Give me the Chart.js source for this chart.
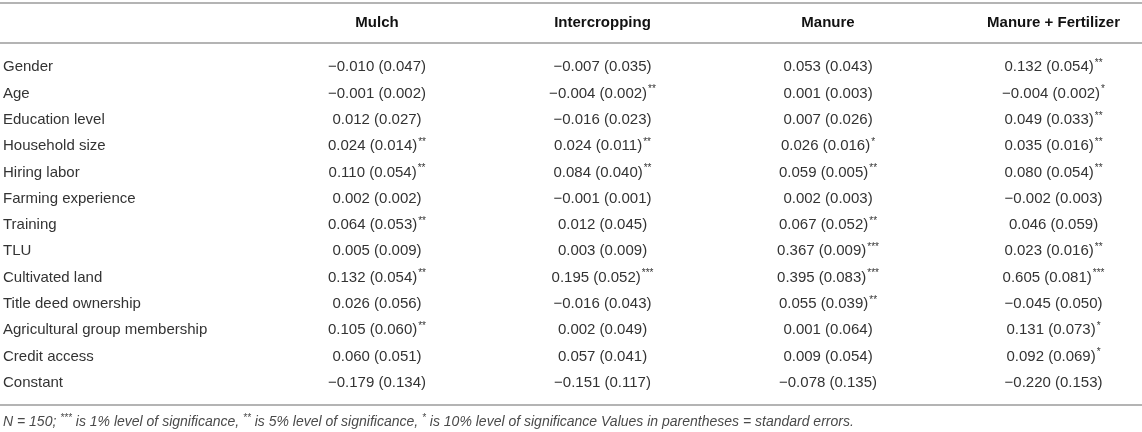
<!DOCTYPE html>
<html lang="en">
<head>
  <meta charset="UTF-8">
  <title>Adoption determinants table</title>
  <script src="https://cdn.jsdelivr.net/npm/chart.js"></script>
  <style>
    html, body { margin: 0; padding: 0; background: #ffffff; }
    .wrap { width: 1142px; height: 432px; position: relative; }
  </style>
</head>
<body>
  <div class="wrap"><canvas id="tableChart"></canvas></div>

  <script>
    // row and column labels
    const rowLabels = [
      'Gender', 'Age', 'Education level', 'Household size', 'Hiring labor',
      'Farming experience', 'Training', 'TLU', 'Cultivated land',
      'Title deed ownership', 'Agricultural group membership', 'Credit access', 'Constant'
    ];
    const columns = ['Mulch', 'Intercropping', 'Manure', 'Manure + Fertilizer'];

    // coefficients, standard errors and significance stars per column
    const mulchCoef = [-0.010, -0.001, 0.012, 0.024, 0.110, 0.002, 0.064, 0.005, 0.132, 0.026, 0.105, 0.060, -0.179];
    const mulchSE   = [0.047, 0.002, 0.027, 0.014, 0.054, 0.002, 0.053, 0.009, 0.054, 0.056, 0.060, 0.051, 0.134];
    const mulchSig  = ['', '', '', '**', '**', '', '**', '', '**', '', '**', '', ''];

    const interCoef = [-0.007, -0.004, -0.016, 0.024, 0.084, -0.001, 0.012, 0.003, 0.195, -0.016, 0.002, 0.057, -0.151];
    const interSE   = [0.035, 0.002, 0.023, 0.011, 0.040, 0.001, 0.045, 0.009, 0.052, 0.043, 0.049, 0.041, 0.117];
    const interSig  = ['', '**', '', '**', '**', '', '', '', '***', '', '', '', ''];

    const manureCoef = [0.053, 0.001, 0.007, 0.026, 0.059, 0.002, 0.067, 0.367, 0.395, 0.055, 0.001, 0.009, -0.078];
    const manureSE   = [0.043, 0.003, 0.026, 0.016, 0.005, 0.003, 0.052, 0.009, 0.083, 0.039, 0.064, 0.054, 0.135];
    const manureSig  = ['', '', '', '*', '**', '', '**', '***', '***', '**', '', '', ''];

    const mfCoef = [0.132, -0.004, 0.049, 0.035, 0.080, -0.002, 0.046, 0.023, 0.605, -0.045, 0.131, 0.092, -0.220];
    const mfSE   = [0.054, 0.002, 0.033, 0.016, 0.054, 0.003, 0.059, 0.016, 0.081, 0.050, 0.073, 0.069, 0.153];
    const mfSig  = ['**', '*', '**', '**', '**', '', '', '**', '***', '', '*', '*', ''];

    const footnote = [
      ['N = 150; ', false], ['***', true], [' is 1% level of significance, ', false],
      ['**', true], [' is 5% level of significance, ', false], ['*', true],
      [' is 10% level of significance Values in parentheses = standard errors.', false]
    ];

    const FONT = "'Liberation Sans', Arial, sans-serif";
    const TEXT = '#333333';
    const RULE = '#b4b4b4';

    function fmt(v) {
      return (v < 0 ? '\u2212' : '') + Math.abs(v).toFixed(3);
    }

    function makeDataset(col, coef, se, sig) {
      return {
        label: col,
        data: rowLabels.map(r => ({ x: col, y: r })),
        cells: coef.map((c, i) => ({ main: fmt(c) + ' (' + se[i].toFixed(3) + ')', stars: sig[i] })),
        showLine: false,
        pointRadius: 0,
        pointHoverRadius: 0
      };
    }

    // draws the cell strings at the points, plus the table rules and footnote
    const tableText = {
      id: 'tableText',
      beforeDraw(chart) {
        const ctx = chart.ctx;
        const y = chart.scales.y;
        ctx.save();
        ctx.fillStyle = RULE;
        ctx.fillRect(0, 2, chart.width, 2);
        ctx.fillRect(0, y.top - 12, chart.width, 2);
        ctx.fillRect(0, y.bottom + 8, chart.width, 2);
        ctx.restore();
      },
      afterDatasetsDraw(chart) {
        const ctx = chart.ctx;
        ctx.save();
        ctx.textBaseline = 'middle';
        ctx.fillStyle = TEXT;
        chart.data.datasets.forEach((ds, di) => {
          const meta = chart.getDatasetMeta(di);
          meta.data.forEach((pt, i) => {
            const cell = ds.cells[i];
            ctx.font = '15px ' + FONT;
            const w1 = ctx.measureText(cell.main).width;
            ctx.font = '10px ' + FONT;
            const w2 = cell.stars ? ctx.measureText(cell.stars).width + 1 : 0;
            const x0 = pt.x - (w1 + w2) / 2;
            ctx.textAlign = 'left';
            ctx.font = '15px ' + FONT;
            ctx.fillText(cell.main, x0, pt.y);
            if (cell.stars) {
              ctx.font = '10px ' + FONT;
              ctx.fillText(cell.stars, x0 + w1 + 1, pt.y - 4);
            }
          });
        });

        // footnote
        let fx = 3;
        const fy = chart.scales.y.bottom + 26;
        footnote.forEach(([txt, sup]) => {
          ctx.font = sup ? 'italic 10px ' + FONT : 'italic 14px ' + FONT;
          ctx.fillStyle = '#4a4a4a';
          ctx.fillText(txt, fx, sup ? fy - 4 : fy);
          fx += ctx.measureText(txt).width;
        });
        ctx.restore();
      }
    };

    const chart = new Chart(document.getElementById('tableChart'), {
      type: 'line',
      data: {
        datasets: [
          makeDataset(columns[0], mulchCoef, mulchSE, mulchSig),
          makeDataset(columns[1], interCoef, interSE, interSig),
          makeDataset(columns[2], manureCoef, manureSE, manureSig),
          makeDataset(columns[3], mfCoef, mfSE, mfSig)
        ]
      },
      options: {
        responsive: true,
        maintainAspectRatio: false,
        animation: false,
        events: [],
        layout: { padding: { left: 3, right: 81, top: 0, bottom: 36 } },
        scales: {
          x: {
            type: 'category',
            labels: columns,
            position: 'top',
            offset: false,
            grid: { display: false, drawTicks: false },
            border: { display: false },
            afterFit: s => { s.height = 54; },
            ticks: {
              autoSkip: false,
              maxRotation: 0,
              padding: 22,
              color: '#111111',
              font: { family: FONT, size: 15, weight: 'bold' }
            }
          },
          y: {
            type: 'category',
            labels: rowLabels,
            offset: true,
            grid: { display: false, drawTicks: false },
            border: { display: false },
            afterFit: s => { s.width = 374; },
            ticks: {
              autoSkip: false,
              crossAlign: 'far',
              color: TEXT,
              font: { family: FONT, size: 15 }
            }
          }
        },
        plugins: {
          legend: { display: false },
          tooltip: { enabled: false }
        }
      },
      plugins: [tableText]
    });
  </script>
</body>
</html>
